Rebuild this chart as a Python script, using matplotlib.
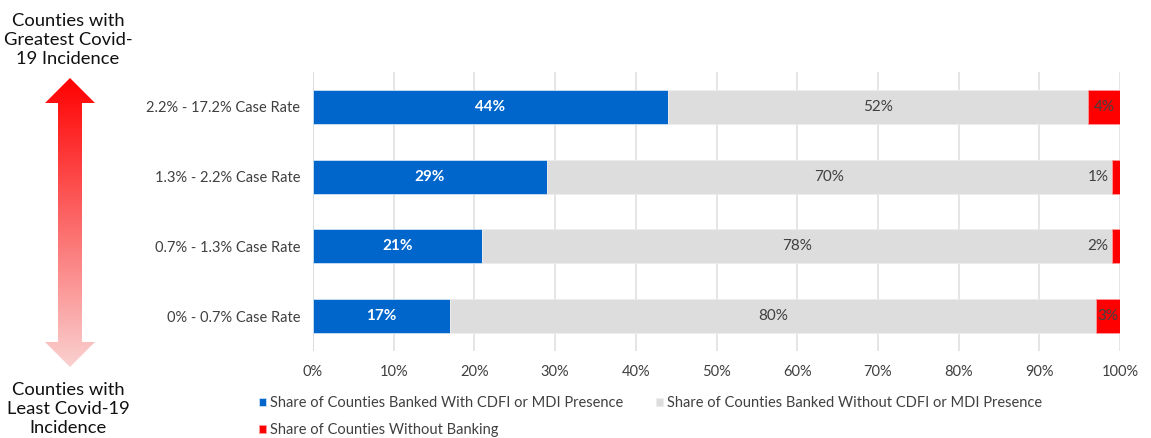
import matplotlib.pyplot as plt
import numpy as np
from matplotlib.patches import Polygon

plt.rcParams['font.family'] = ['Lato', 'DejaVu Sans']

categories = ["0% - 0.7% Case Rate", "0.7% - 1.3% Case Rate",
              "1.3% - 2.2% Case Rate", "2.2% - 17.2% Case Rate"]
with_cdfi = [17, 21, 29, 44]
without_cdfi = [80, 78, 70, 52]
no_banking = [3, 2, 1, 4]
series_names = ["Share of Counties Banked With CDFI or MDI Presence",
                "Share of Counties Banked Without CDFI or MDI Presence",
                "Share of Counties Without Banking"]

blue = "#0066cc"
grey = "#dddddd"
red = "#ff0000"
txt = "#404040"

fig = plt.figure(figsize=(11.51, 4.38), dpi=100)
ax = fig.add_axes([313/1151, 1-351/438, 807/1151, 279/438])

y = np.arange(len(categories))
h = 0.49
b1 = ax.barh(y, with_cdfi, height=h, color=blue, edgecolor="#cfe0f5", linewidth=0.6,
             label=series_names[0], zorder=3)
left2 = np.array(with_cdfi)
b2 = ax.barh(y, without_cdfi, left=left2, height=h, color=grey, edgecolor="#eeeeee",
             linewidth=0.6, label=series_names[1], zorder=3)
left3 = left2 + np.array(without_cdfi)
b3 = ax.barh(y, no_banking, left=left3, height=h, color=red, edgecolor="#ff9999",
             linewidth=0.6, label=series_names[2], zorder=3)

for i in range(len(categories)):
    ax.text(with_cdfi[i]/2, y[i], f"{with_cdfi[i]}%", ha="center", va="center",
            color="white", fontsize=11, fontweight="bold", zorder=4)
    ax.text(left2[i] + without_cdfi[i]/2, y[i], f"{without_cdfi[i]}%", ha="center",
            va="center", color=txt, fontsize=11, zorder=4)
    if no_banking[i] < 3:
        ax.text(left3[i] - 0.4, y[i], f"{no_banking[i]}%", ha="right", va="center",
                color=txt, fontsize=11, zorder=4)
    else:
        ax.text(left3[i] + no_banking[i]/2, y[i], f"{no_banking[i]}%", ha="center",
                va="center", color=txt, fontsize=11, zorder=4)

ax.set_xlim(0, 100)
ax.set_ylim(-0.5, len(categories) - 0.5)
ax.set_xticks(np.arange(0, 101, 10))
ax.set_xticklabels([f"{v}%" for v in range(0, 101, 10)])
ax.set_yticks(y)
ax.set_yticklabels(categories)
ax.tick_params(axis="both", length=0, labelsize=10.5, colors=txt)
ax.tick_params(axis="x", pad=10)
ax.tick_params(axis="y", pad=9)
ax.grid(axis="x", color="#e0e0e0", linewidth=1.2, zorder=0)
for s in ax.spines.values():
    s.set_visible(False)
ax.axvline(0, color="#c8c8c8", linewidth=1.2, zorder=1)

# column-wise fill: first column holds series 1 and 3, second column series 2
leg = fig.legend(handles=[b1, b3, b2], loc="upper left",
                 bbox_to_anchor=(253/1151, 1-390/438), ncol=2, frameon=False,
                 fontsize=10.5, handlelength=0.5, handleheight=0.5, handletextpad=0.3,
                 columnspacing=2.2, labelspacing=0.9, borderaxespad=0)
for t in leg.get_texts():
    t.set_color(txt)

# gradient double arrow on the left, drawn in pixel coordinates
ov = fig.add_axes([0, 0, 1, 1], zorder=-1)
ov.set_xlim(0, 1151)
ov.set_ylim(438, 0)
ov.axis("off")
cx = 70
arrow = [(cx, 78), (cx + 25, 103), (cx + 12, 103), (cx + 12, 342), (cx + 25, 342),
         (cx, 367), (cx - 25, 342), (cx - 12, 342), (cx - 12, 103), (cx - 25, 103)]
poly = Polygon(arrow, closed=True, facecolor="none", edgecolor="none")
ov.add_patch(poly)
t = np.linspace(0, 1, 256)[:, None]
top = np.array([1.0, 0.0, 0.0])
bot = np.array([0.98, 0.82, 0.82])
grad = top + (bot - top) * t[..., None]
grad = np.repeat(grad, 2, axis=1)
im = ov.imshow(grad, extent=(cx - 26, cx + 26, 368, 77), aspect="auto",
               interpolation="bilinear")
im.set_clip_path(poly)

fig.text(68/1151, 1-40/438, "Counties with\nGreatest Covid-\n19 Incidence", ha="center",
         va="center", fontsize=13.2, color="#111111", linespacing=1.25)
fig.text(68/1151, 1-409/438, "Counties with\nLeast Covid-19\nIncidence", ha="center",
         va="center", fontsize=13.2, color="#111111", linespacing=1.25)

fig.savefig("out.png", dpi=100)
